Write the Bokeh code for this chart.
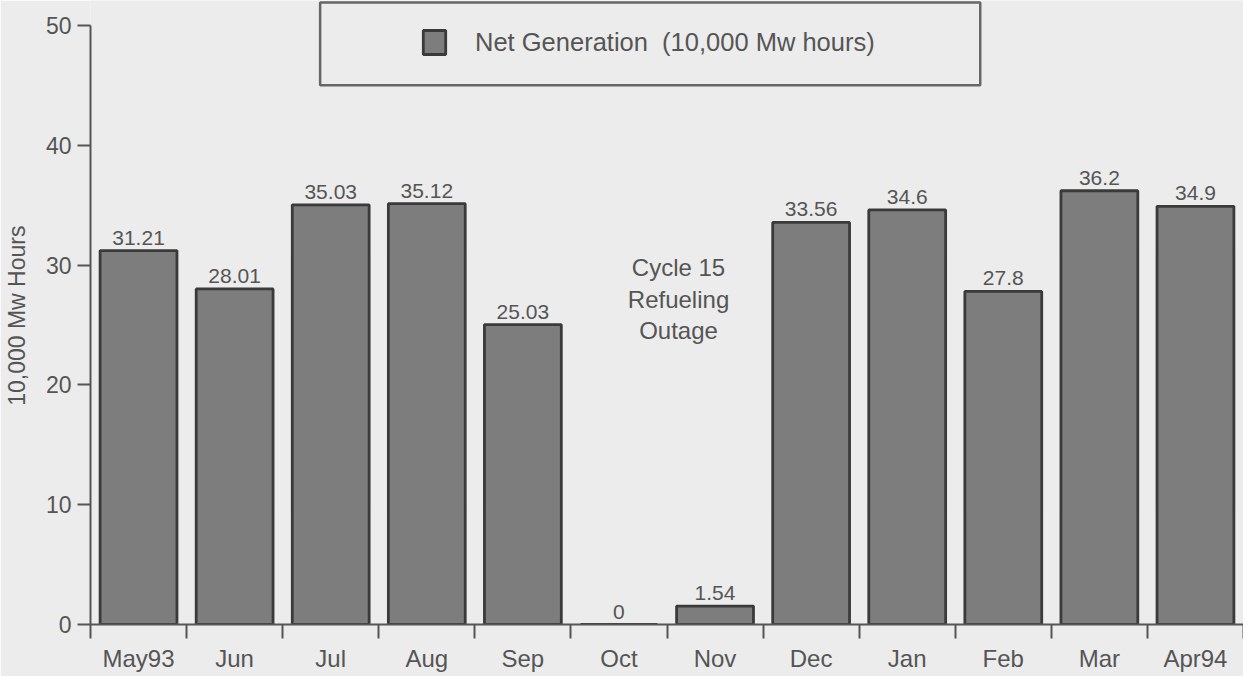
from bokeh.plotting import figure
from bokeh.models import (Range1d, FixedTicker, BoxAnnotation, Legend, LegendItem,
                          Label, ColumnDataSource)
from bokeh.core.properties import value
from bokeh.embed import file_html
from bokeh.resources import INLINE

# ---- data ----
months = ["May93", "Jun", "Jul", "Aug", "Sep", "Oct", "Nov", "Dec", "Jan", "Feb", "Mar", "Apr94"]
net_generation = [31.21, 28.01, 35.03, 35.12, 25.03, 0, 1.54, 33.56, 34.6, 27.8, 36.2, 34.9]
value_labels = ["31.21", "28.01", "35.03", "35.12", "25.03", "0", "1.54", "33.56", "34.6", "27.8", "36.2", "34.9"]
y_ticks = [0, 10, 20, 30, 40, 50]
outage_note = ["Cycle 15", "Refueling", "Outage"]

# ---- style ----
BG = "#ececec"
TXT = "#555555"
FONT = "Liberation Sans"
BAR_FILL = "#7d7d7d"
BAR_LINE = "#3a3a3a"

idx = list(range(len(months)))
src = ColumnDataSource(dict(x=idx, top=net_generation, label=value_labels))

p = figure(width=1243, height=676,
           x_range=Range1d(-0.5, len(months) - 0.5),
           y_range=Range1d(0, 52.08),
           output_backend="svg", toolbar_location=None,
           min_border_left=89, min_border_right=0, min_border_top=0, min_border_bottom=52,
           background_fill_color=BG, border_fill_color=BG, outline_line_color=None)

r = p.vbar(x="x", top="top", width=0.8, source=src,
           fill_color=BAR_FILL, line_color=BAR_LINE, line_width=2.8)

p.text(x="x", y="top", text="label", source=src,
       text_align="center", text_baseline="alphabetic", y_offset=-13,
       text_font=value(FONT), text_font_size="21px", text_color=TXT)

# annotation
for i, line in enumerate(outage_note):
    p.add_layout(Label(x=5.62, y=29.8 - i * 2.65, text=line, text_align="center",
                       text_baseline="alphabetic", text_font=FONT,
                       text_font_size="24px", text_color=TXT))

p.xgrid.visible = False
p.ygrid.visible = False

xa = p.xaxis[0]
xa.ticker = FixedTicker(ticks=idx, minor_ticks=[i - 0.5 for i in range(len(months) + 1)])
xa.major_label_overrides = {i: m for i, m in enumerate(months)}
xa.major_tick_out = 0
xa.major_tick_in = 0
xa.minor_tick_out = 14
xa.minor_tick_in = 0
xa.minor_tick_line_color = "#555555"
xa.minor_tick_line_width = 2
xa.axis_line_color = "#555555"
xa.axis_line_width = 2
xa.major_label_standoff = 6
xa.major_label_text_font = FONT
xa.major_label_text_font_size = "24px"
xa.major_label_text_color = TXT

ya = p.yaxis[0]
ya.ticker = FixedTicker(ticks=y_ticks)
ya.bounds = (0, 50)
ya.major_tick_out = 13
ya.major_tick_in = 0
ya.minor_tick_out = 0
ya.minor_tick_in = 0
ya.major_tick_line_color = "#555555"
ya.major_tick_line_width = 2
ya.axis_line_color = "#555555"
ya.axis_line_width = 2
ya.major_label_standoff = 6
ya.major_label_text_font = FONT
ya.major_label_text_font_size = "23px"
ya.major_label_text_color = TXT
ya.axis_label = "10,000  Mw Hours"
ya.axis_label_text_font = FONT
ya.axis_label_text_font_size = "23px"
ya.axis_label_text_font_style = "normal"
ya.axis_label_text_color = TXT
ya.axis_label_standoff = 13

# legend box
p.add_layout(BoxAnnotation(left=1.89, right=8.76, bottom=45.0, top=51.92,
                           fill_color=None, fill_alpha=0,
                           line_color="#666666", line_alpha=1.0, line_width=2.5))

legend = Legend(items=[LegendItem(label="Net Generation  (10,000 Mw hours)", renderers=[r])],
                location=(330, 567), padding=0, margin=0, spacing=0,
                glyph_width=28, glyph_height=30, label_height=30, label_standoff=27,
                border_line_alpha=0, background_fill_alpha=0,
                label_text_font=FONT, label_text_font_size="25.5px",
                label_text_color=TXT)
p.add_layout(legend)

html = file_html(p, INLINE)
html = html.replace("<body>", '<body style="background-color:#ececec;">', 1)
open("out.html", "w").write(html)
